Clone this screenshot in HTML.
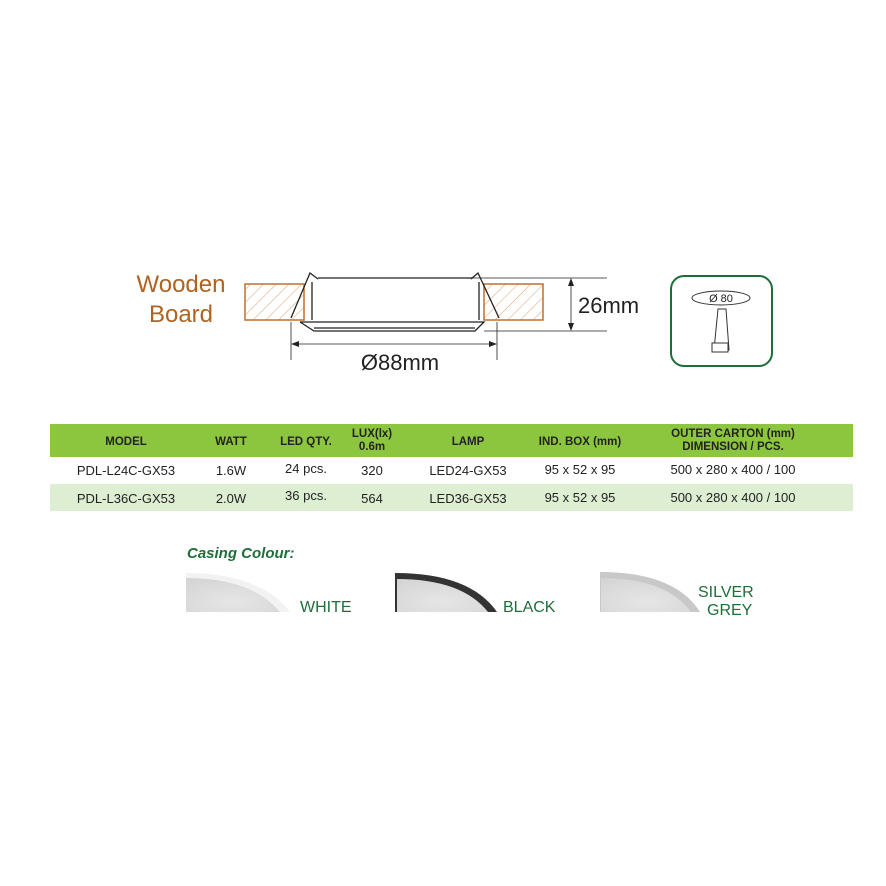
<!DOCTYPE html>
<html><head><style>
body{margin:0;background:#fff;}
svg{display:block}
</style></head><body>
<svg width="886" height="886" viewBox="0 0 886 886" xmlns="http://www.w3.org/2000/svg" font-family="Liberation Sans, sans-serif">
<defs>
<pattern id="h" width="9" height="9" patternUnits="userSpaceOnUse" patternTransform="rotate(45)">
<line x1="0" y1="0" x2="0" y2="9" stroke="#e0a070" stroke-width="1"/>
</pattern>
<radialGradient id="led" cx="0.5" cy="0.7" r="0.8">
<stop offset="0" stop-color="#e6e6e6"/><stop offset="1" stop-color="#d4d4d4"/>
</radialGradient>
</defs>
<text x="181" y="292" font-size="24" fill="#b0621e" text-anchor="middle">Wooden</text>
<text x="181" y="322" font-size="24" fill="#b0621e" text-anchor="middle">Board</text>
<rect x="245" y="284" width="59" height="36" fill="url(#h)" stroke="#c07030" stroke-width="1.5"/>
<rect x="484" y="284" width="59" height="36" fill="url(#h)" stroke="#c07030" stroke-width="1.5"/>
<g stroke="#222" fill="none" stroke-width="1.3">
<line x1="318" y1="278" x2="472" y2="278"/>
<line x1="312" y1="282" x2="312" y2="320"/>
<line x1="479" y1="282" x2="479" y2="320"/>
<polyline points="291,318 310,273 318,279"/>
<polyline points="499,318 478,273 471,279"/>
<polyline points="300,322 484,322 475,331 314,331 300,322"/>
<line x1="314" y1="328" x2="475" y2="328"/>
<line x1="472" y1="278" x2="607" y2="278" stroke-width="0.8"/>
<line x1="484" y1="331" x2="607" y2="331" stroke-width="0.8"/>
<line x1="571" y1="280" x2="571" y2="329" stroke-width="0.8"/>
<line x1="291" y1="322" x2="291" y2="360" stroke-width="0.8"/>
<line x1="497" y1="322" x2="497" y2="360" stroke-width="0.8"/>
<line x1="293" y1="344" x2="495" y2="344" stroke-width="0.8"/>
</g>
<g fill="#222">
<polygon points="571,278 568,286 574,286"/><polygon points="571,331 568,323 574,323"/>
<polygon points="291,344 299,341 299,347"/><polygon points="497,344 489,341 489,347"/>
</g>
<text x="578" y="313" font-size="22" fill="#222">26mm</text>
<text x="400" y="370" font-size="22" fill="#222" text-anchor="middle">Ø88mm</text>
<rect x="671" y="276" width="101" height="90" rx="13" fill="#fff" stroke="#1f6e3a" stroke-width="2"/>
<ellipse cx="721" cy="298" rx="29" ry="7" fill="#fff" stroke="#333"/>
<text x="721" y="302" font-size="11" fill="#222" text-anchor="middle">Ø 80</text>
<polygon points="718,309 726,309 729,350 714,350" fill="#fff" stroke="#333"/>
<rect x="712" y="343" width="16" height="9" fill="#fff" stroke="#333"/>
<rect x="50" y="424" width="803" height="33" fill="#8cc63f"/>
<rect x="50" y="484" width="803" height="27" fill="#ddeed3"/>
<g font-size="11.5" font-weight="bold" fill="#222" text-anchor="middle">
<text x="126" y="445">MODEL</text><text x="231" y="445">WATT</text><text x="306" y="445">LED QTY.</text>
<text x="372" y="437">LUX(lx)</text><text x="372" y="450">0.6m</text>
<text x="468" y="445">LAMP</text><text x="580" y="445">IND. BOX (mm)</text>
<text x="733" y="437">OUTER CARTON (mm)</text><text x="733" y="450">DIMENSION / PCS.</text>
</g>
<g font-size="13" fill="#222" text-anchor="middle">
<text x="126" y="475">PDL-L24C-GX53</text><text x="231" y="475">1.6W</text><text x="306" y="473">24 pcs.</text>
<text x="372" y="475">320</text><text x="468" y="475">LED24-GX53</text><text x="580" y="474">95 x 52 x 95</text><text x="733" y="474">500 x 280 x 400 / 100</text>
<text x="126" y="503">PDL-L36C-GX53</text><text x="231" y="503">2.0W</text><text x="306" y="500">36 pcs.</text>
<text x="372" y="503">564</text><text x="468" y="503">LED36-GX53</text><text x="580" y="502">95 x 52 x 95</text><text x="733" y="502">500 x 280 x 400 / 100</text>
</g>
<text x="187" y="558" font-size="15" font-weight="bold" font-style="italic" fill="#1f6e3a">Casing Colour:</text>
<path d="M186,573 Q260,573 290,612 L186,612 Z" fill="#f2f2f2"/>
<path d="M186,578 Q252,578 280,612 L186,612 Z" fill="url(#led)"/>
<path d="M395,573 Q470,573 497,612 L395,612 Z" fill="#333"/>
<path d="M397,579 Q462,579 488,612 L397,612 Z" fill="url(#led)"/>
<path d="M600,572 Q675,572 700,612 L600,612 Z" fill="#c8c8c8"/>
<path d="M601,578 Q666,578 691,612 L601,612 Z" fill="url(#led)"/>
<g font-size="16" fill="#1f6e3a">
<text x="300" y="612">WHITE</text><text x="503" y="612">BLACK</text>
<text x="698" y="597">SILVER</text><text x="707" y="615">GREY</text>
</g>
</svg>
</body></html>
